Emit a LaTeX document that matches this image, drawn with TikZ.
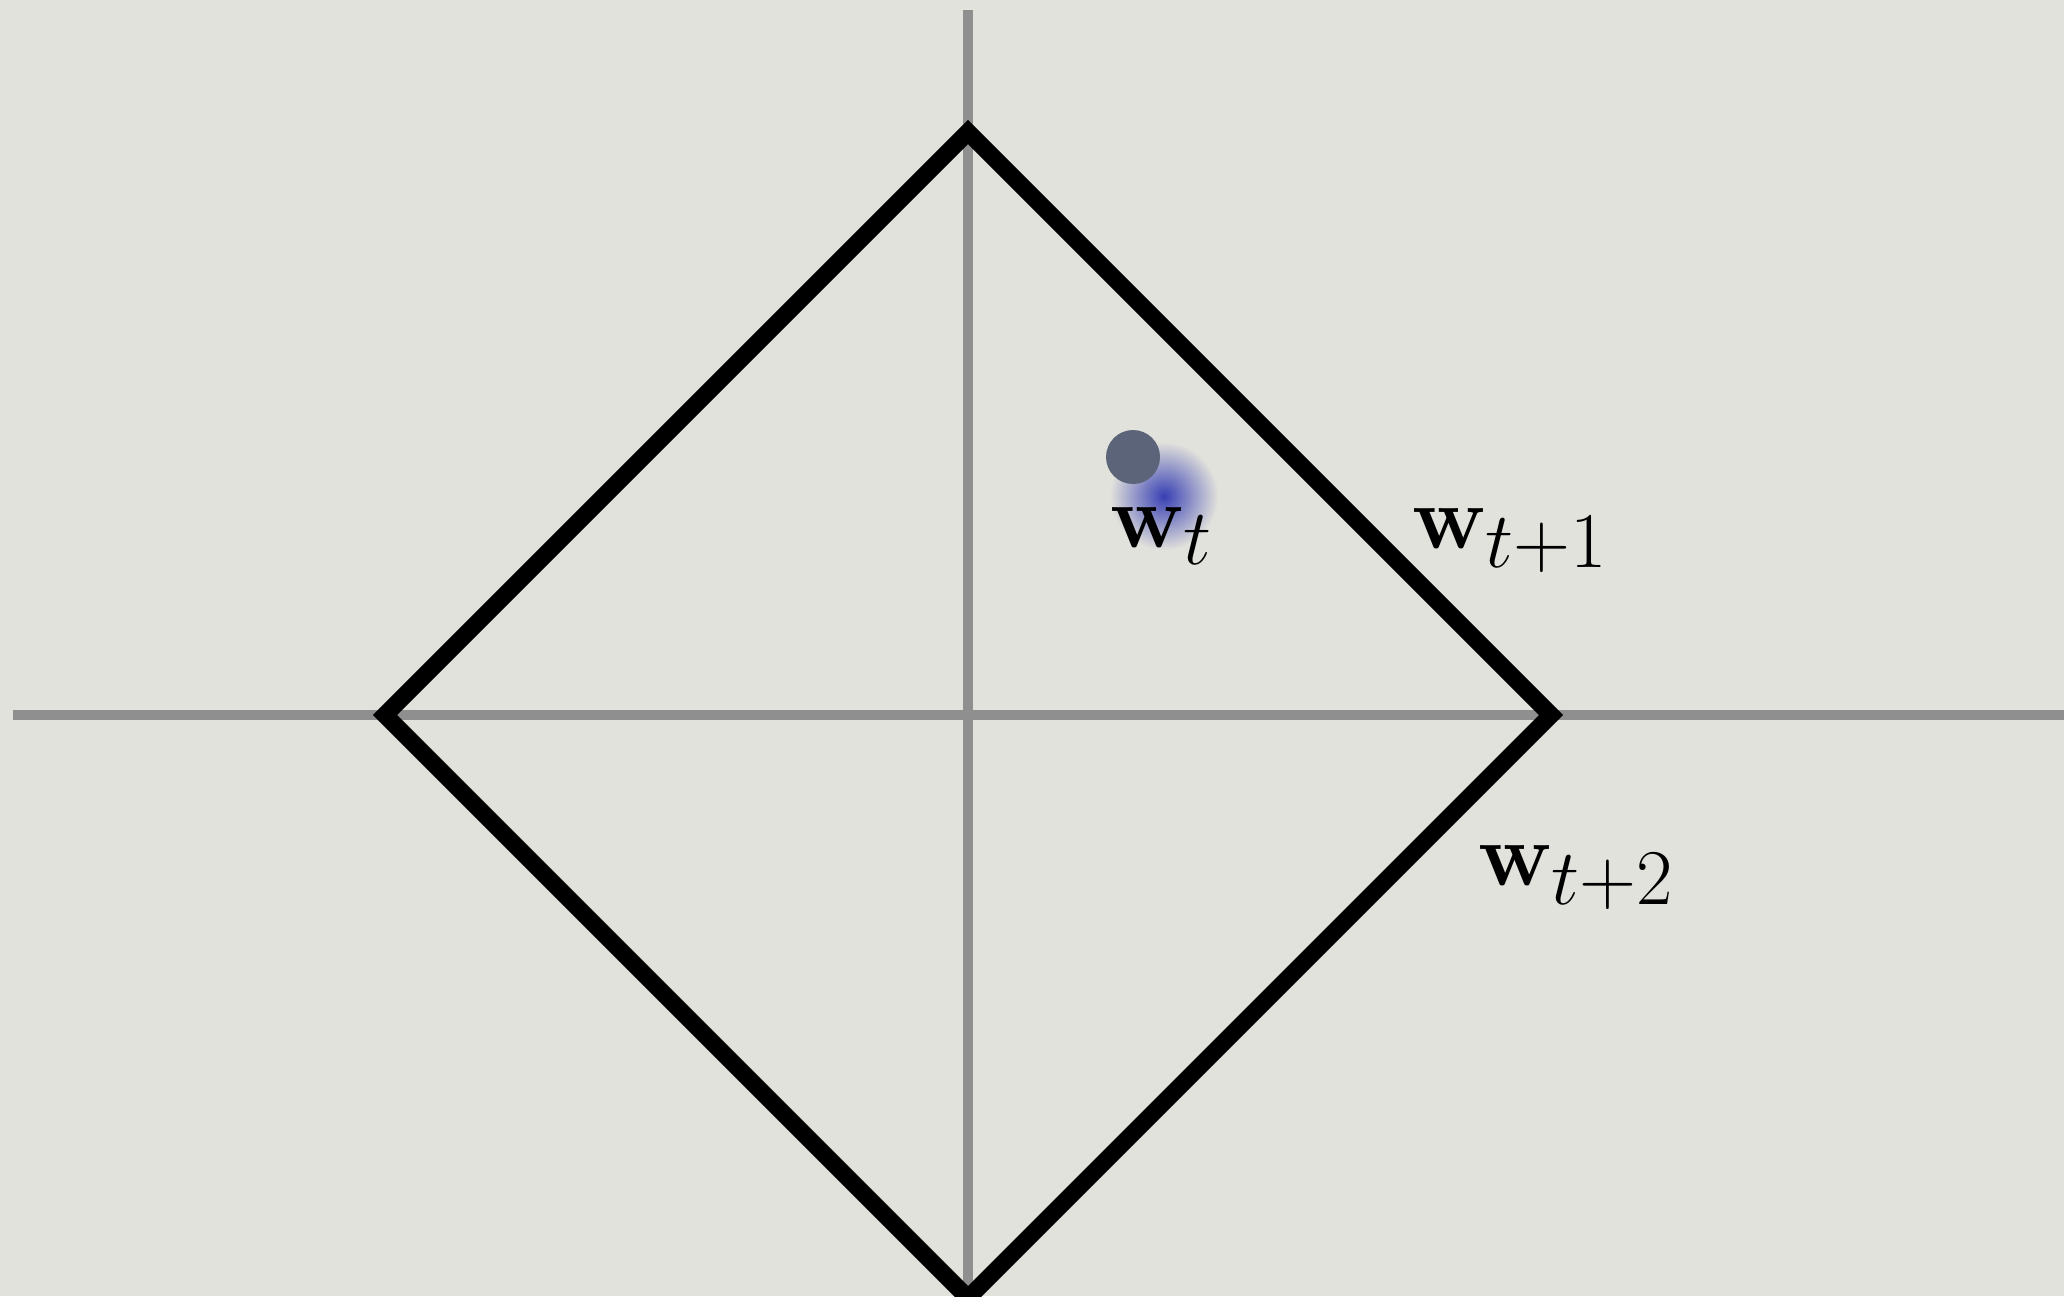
\documentclass[tikz,border=0pt]{standalone}
\usepackage{fix-cm}
\usetikzlibrary{fadings}
\DeclareMathSizes{45}{45}{39.5}{29}
\definecolor{bgcol}{HTML}{E2E2DC}
\definecolor{axisgray}{HTML}{8F8F8F}
\definecolor{dotgray}{HTML}{5B6478}
\definecolor{blobblue}{HTML}{3840B4}
\tikzfading[name=blobfade, inner color=transparent!0, outer color=transparent!100]
\begin{document}
\begin{tikzpicture}[x=0.5pt,y=-0.5pt,
  axis/.style={line width=5pt, draw=axisgray},
  ballline/.style={line width=8.5pt, draw=black, line join=miter},
  lbl/.style={anchor=base west, inner sep=0pt, font=\fontsize{45}{54}\selectfont},
  dotnode/.style={circle, fill=dotgray, minimum size=27pt, inner sep=0pt}]
\useasboundingbox (0,0) rectangle (2064,1296);
\clip (0,0) rectangle (2064,1296);
\fill[bgcol] (0,0) rectangle (2064,1296);
% axes
\coordinate (vtop) at (968,10);
\coordinate (vbot) at (968,1296);
\coordinate (hleft) at (13,715);
\coordinate (hright) at (2064,715);
\draw[axis] (vtop) -- (vbot);
\draw[axis] (hleft) -- (hright);
% L1 ball
\coordinate (top) at (968,132);
\coordinate (right) at (1551,715);
\coordinate (bottom) at (968,1298);
\coordinate (left) at (385,715);
\draw[ballline] (top) -- (right) -- (bottom) -- (left) -- cycle;
% blurred blob and point
\fill[blobblue, path fading=blobfade] (1164,496) circle (27pt);
\node[dotnode] (wt) at (1133,457) {};
% labels
\node[lbl] (lt) at (1110,547) {$\mathbf{w}_t$};
\node[lbl] (lt1) at (1412,548) {$\mathbf{w}_{t+1}$};
\node[lbl] (lt2) at (1478,885) {$\mathbf{w}_{t+2}$};
\end{tikzpicture}
\end{document}
